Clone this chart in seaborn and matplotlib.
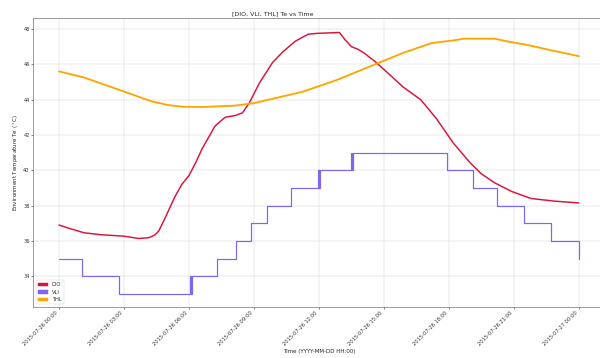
import pandas as pd
import numpy as np
import matplotlib
matplotlib.use("Agg")
import matplotlib.pyplot as plt
import matplotlib.dates as mdates
from matplotlib.patches import Patch
import seaborn as sns

base = pd.Timestamp("2015-07-26 00:00")

# DIO readings (hours since start, Te)
dio_hours = [0.0, 0.5, 1.16, 1.95, 3.0, 3.67, 4.14, 4.42, 4.6, 4.9, 5.35, 5.67, 6.0, 6.3, 6.6, 7.2,
             7.67, 8.14, 8.47, 8.78, 9.26, 9.86, 10.33, 10.9, 11.5, 11.9, 12.95, 13.2, 13.5, 13.8,
             14.05, 14.6, 15.1, 15.9, 16.7, 17.44, 18.2, 19.0, 19.5, 20.1, 20.9, 21.8, 22.9, 24.0]
dio_te = [36.9, 36.7, 36.46, 36.35, 36.27, 36.14, 36.18, 36.33, 36.55, 37.3, 38.5, 39.2, 39.7, 40.4,
          41.2, 42.5, 43.0, 43.1, 43.25, 43.8, 44.95, 46.1, 46.7, 47.3, 47.7, 47.75, 47.8, 47.4,
          47.0, 46.85, 46.67, 46.15, 45.6, 44.7, 44.0, 42.9, 41.55, 40.4, 39.8, 39.3, 38.8, 38.4,
          38.25, 38.15]

# VLI readings (integer steps)
vli_hours = [0.0, 1.07, 2.75, 6.05, 6.08, 6.12, 7.3, 8.15, 8.85, 9.6, 10.7, 11.98, 12.02, 12.06,
             13.5, 13.54, 13.58, 17.9, 19.1, 20.2, 21.45, 22.7, 24.0]
vli_te = [35, 34, 33, 34, 33, 34, 35, 36, 37, 38, 39, 40, 39, 40,
          41, 40, 41, 40, 39, 38, 37, 36, 35]

# THL readings
thl_hours = [0.0, 1.16, 2.74, 4.28, 5.0, 5.67, 6.6, 8.14, 9.0, 9.7, 11.26, 12.8, 14.4, 15.9,
             17.2, 18.2, 18.7, 20.1, 20.9, 21.6, 22.7, 24.0]
thl_te = [45.6, 45.25, 44.57, 43.9, 43.7, 43.6, 43.58, 43.66, 43.8, 44.0, 44.45, 45.1, 45.9, 46.65,
          47.2, 47.35, 47.45, 47.45, 47.25, 47.1, 46.8, 46.46]

colors = {"DIO": "crimson", "VLI": "mediumslateblue", "THL": "orange"}


def to_df(hours, te):
    return pd.DataFrame({"Time": base + pd.to_timedelta(hours, unit="h"), "Te": te})


dio = to_df(dio_hours, dio_te)
vli = to_df(vli_hours, vli_te)
thl = to_df(thl_hours, thl_te)

sns.set_theme(style="whitegrid", context="notebook")
plt.rcParams.update({
    "axes.edgecolor": "0.35",
    "grid.color": "0.82",
    "xtick.bottom": True,
    "ytick.left": True,
    "xtick.major.size": 3.5,
    "ytick.major.size": 3.5,
    "xtick.color": "0.2",
    "ytick.color": "0.2",
})
plt.rcParams["font.family"] = ["DejaVu Sans"]

fig = plt.figure(figsize=(18, 10.74), dpi=100 / 3)
ax = fig.add_axes([0.055, 0.1425, 0.953, 0.8072])

sns.lineplot(data=dio, x="Time", y="Te", color=colors["DIO"], linewidth=3.2, ax=ax)
sns.lineplot(data=vli, x="Time", y="Te", color=colors["VLI"], linewidth=2.6,
             drawstyle="steps-post", ax=ax)
sns.lineplot(data=thl, x="Time", y="Te", color=colors["THL"], linewidth=4.0, ax=ax)

ax.set_title("[DIO, VLI, THL] Te vs Time", fontsize=13.5, x=0.42)
ax.set_xlabel("Time (YYYY-MM-DD HH:00)")
ax.set_ylabel(r"Environment Temperature Te ($^\circ$C)")
ax.xaxis.set_major_locator(mdates.HourLocator(byhour=range(0, 24, 3)))
ax.xaxis.set_major_formatter(mdates.DateFormatter("%Y-%m-%d %H:%M"))
plt.setp(ax.get_xticklabels(), rotation=45, ha="right")
ax.set_ylim(32.26, 48.62)
ax.set_yticks([34, 36, 38, 40, 42, 44, 46, 48])

handles = [Patch(color=colors[k], label=k) for k in ["DIO", "VLI", "THL"]]
ax.legend(handles=handles, loc="lower left")

fig.savefig("out.png", dpi=100 / 3)
